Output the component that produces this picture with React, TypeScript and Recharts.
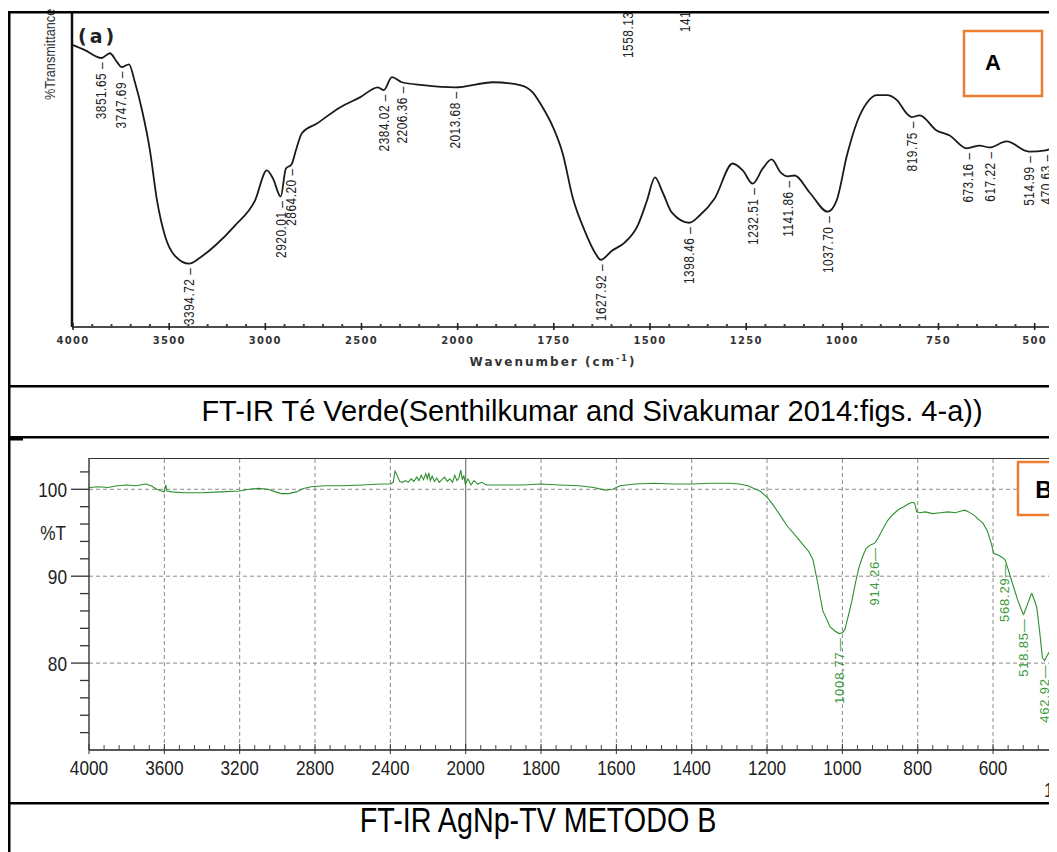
import React from "react";
import { LineChart, Line, XAxis, YAxis, ReferenceDot, ReferenceLine } from "recharts";

// ---------- Panel A : FT-IR Té Verde ----------
const A_WAVENUMBERS = [4000, 3938, 3852, 3808, 3771, 3748, 3709, 3678, 3641, 3600, 3563, 3522, 3470, 3395, 3340, 3262, 3158, 3054, 2992, 2960, 2920, 2893, 2864, 2841, 2810, 2732, 2612, 2508, 2415, 2384, 2342, 2290, 2181, 2014, 1908, 1838, 1805, 1779, 1752, 1727, 1701, 1670, 1643, 1628, 1599, 1566, 1532, 1508, 1487, 1467, 1443, 1398, 1371, 1332, 1285, 1259, 1233, 1207, 1184, 1160, 1142, 1124, 1085, 1038, 1015, 988, 962, 937, 911, 885, 858, 833, 820, 799, 755, 721, 677, 643, 617, 573, 515, 471, 440];
const A_TRANSMITTANCE = [89.5, 87.9, 85.4, 86.9, 84.1, 82.5, 83.4, 77.7, 68.8, 56.1, 40.1, 29.0, 22.6, 20.1, 22.0, 25.8, 32.2, 40.1, 49.7, 47.1, 41.4, 50.3, 51.6, 56.1, 61.5, 64.6, 69.7, 72.9, 76.1, 75.2, 79.3, 77.7, 76.8, 76.1, 77.7, 76.8, 74.5, 69.7, 63.4, 55.1, 41.1, 30.6, 23.6, 21.3, 24.2, 26.8, 32.2, 40.1, 47.5, 42.7, 36.3, 33.1, 35.4, 40.8, 51.9, 49.7, 45.5, 50.3, 53.2, 49.0, 47.8, 48.1, 42.7, 36.6, 40.1, 54.5, 65.0, 71.0, 73.6, 73.6, 72.0, 67.8, 66.6, 67.2, 62.4, 60.8, 56.7, 57.6, 57.0, 58.9, 55.7, 56.1, 58.3];
const A_TICK_WAVENUMBERS = [4000, 3500, 3000, 2500, 2000, 1750, 1500, 1250, 1000, 750, 500];
const A_PEAK_TEXT = ["3851.65", "3747.69", "3394.72", "2920.01", "2864.20", "2384.02", "2206.36", "2013.68", "1627.92", "1398.46", "1232.51", "1141.86", "1037.70", "819.75", "673.16", "617.22", "514.99", "470.63"];
const A_PEAK_AT = [3851.65, 3747.69, 3394.72, 2920.01, 2864.2, 2384.02, 2290, 2013.68, 1627.92, 1398.46, 1232.51, 1141.86, 1037.7, 819.75, 673.16, 617.22, 514.99, 470.63];
const A_PEAK_T = [85.4, 82.5, 20.1, 41.4, 51.6, 75.2, 77.7, 76.1, 21.3, 33.1, 45.5, 47.8, 36.6, 66.6, 56.7, 57.0, 55.7, 56.1];
const A_TOP_TEXT = ["1558.13", "141"];
const A_TOP_AT = [1558.13, 1410];
const A_TOP_T = [85.4, 93.6];

// ---------- Panel B : FT-IR AgNp-TV METODO B ----------
const B_WAVENUMBERS = [4000, 3950, 3900, 3850, 3800, 3750, 3700, 3670, 3640, 3615, 3600, 3592, 3586, 3560, 3500, 3450, 3400, 3300, 3200, 3150, 3100, 3050, 3010, 2980, 2940, 2900, 2860, 2820, 2750, 2650, 2550, 2450, 2400, 2385, 2375, 2368, 2360, 2350, 2335, 2320, 2305, 2290, 2275, 2260, 2248, 2236, 2224, 2212, 2204, 2196, 2188, 2178, 2166, 2154, 2140, 2126, 2112, 2098, 2084, 2070, 2058, 2046, 2036, 2026, 2018, 2010, 2002, 1994, 1986, 1978, 1968, 1958, 1945, 1900, 1850, 1800, 1750, 1700, 1660, 1630, 1610, 1590, 1550, 1500, 1450, 1400, 1350, 1300, 1274, 1250, 1235, 1219, 1200, 1184, 1165, 1147, 1125, 1102, 1090, 1078, 1065, 1052, 1040, 1033, 1020, 1008.77, 1000, 993, 984, 975, 965, 956, 946, 937, 925, 914.26, 905, 893, 880, 866, 850, 837, 825, 815, 808, 803, 795, 780, 760, 740, 720, 700, 685, 675, 665, 650, 640, 627, 615, 605, 598, 585, 574, 568.29, 560, 548, 535, 521, 518.85, 510, 500, 497, 490, 484, 476, 469, 462.92, 456, 452, 445, 438, 430, 422];
const B_TRANSMITTANCE = [100.2, 100.3, 100.2, 100.4, 100.5, 100.4, 100.6, 100.4, 100.0, 99.8, 99.7, 100.5, 99.8, 99.7, 99.6, 99.6, 99.6, 99.7, 99.8, 100.0, 100.1, 100.0, 99.7, 99.5, 99.5, 99.7, 100.1, 100.3, 100.4, 100.4, 100.5, 100.6, 100.6, 100.8, 102.1, 101.8, 101.4, 100.9, 100.8, 101.0, 100.8, 101.2, 100.9, 101.4, 101.0, 101.6, 101.1, 101.8, 101.2, 101.9, 101.0, 101.5, 100.9, 101.3, 100.8, 101.1, 101.4, 100.9, 101.2, 100.8, 101.6, 101.0, 101.3, 102.2, 101.1, 101.6, 100.6, 101.2, 100.5, 101.0, 100.6, 100.8, 100.5, 100.5, 100.5, 100.6, 100.5, 100.4, 100.2, 99.9, 100.0, 100.4, 100.6, 100.7, 100.6, 100.6, 100.7, 100.7, 100.6, 100.4, 100.1, 99.8, 99.1, 98.2, 97.0, 95.8, 94.7, 93.5, 92.9, 91.9, 89.1, 86.0, 84.9, 84.2, 83.7, 83.4, 83.5, 83.9, 85.5, 87.1, 89.3, 91.0, 92.3, 93.2, 93.6, 93.8, 94.4, 95.4, 96.4, 97.1, 97.7, 98.0, 98.3, 98.5, 98.4, 97.4, 97.3, 97.4, 97.2, 97.3, 97.4, 97.3, 97.5, 97.6, 97.4, 97.0, 96.6, 96.1, 95.2, 93.8, 92.6, 92.4, 92.1, 91.9, 90.8, 89.1, 87.3, 85.7, 85.6, 86.6, 87.8, 88.0, 87.2, 86.4, 83.5, 80.6, 80.3, 80.9, 81.2, 80.5, 79.9, 79.6, 79.0];
const B_TICK_WAVENUMBERS = [4000, 3600, 3200, 2800, 2400, 2000, 1800, 1600, 1400, 1200, 1000, 800, 600, 400];
const B_Y_LABELS = [100, 90, 80];
const B_PEAK_TEXT = ["1008.77", "914.26", "568.29", "518.85", "462.92"];
const B_PEAK_AT = [1008.77, 914.26, 568.29, 518.85, 462.92];
const B_PEAK_T = [83.4, 93.8, 91.9, 85.6, 80.3];

// piecewise wavenumber axes (2x expansion below 2000 cm-1)
const posA = (w: number) => (w >= 2000 ? (4000 - w) / 500 : 4 + (2000 - w) / 250);
const posB = (w: number) => (w >= 2000 ? (4000 - w) / 400 : 5 + (2000 - w) / 200);

const SANS = "'Liberation Sans', Arial, sans-serif";
const WIDE = "'DejaVu Sans', Verdana, sans-serif";
const NX = 0.82; // horizontal squeeze to mimic a narrow face

const A_MIN = -0.0104;
const A_MAX = 10.7;
const B_MIN = 0;
const B_MAX = 13.3;

function buildTicks(majors: number[], extra: number) {
  const out: number[] = [];
  for (let i = 0; i < majors.length; i++) {
    out.push(majors[i]);
    const next = i < majors.length - 1 ? majors[i + 1] : majors[i] + extra;
    for (let k = 1; k <= 4; k++) out.push(majors[i] + ((next - majors[i]) * k) / 5);
  }
  return out;
}

const A_MAJOR_POS = A_TICK_WAVENUMBERS.map(posA);
const B_MAJOR_POS = B_TICK_WAVENUMBERS.map(posB);
const A_TICKS = buildTicks(A_MAJOR_POS, 1).filter((p) => p <= A_MAX);
const B_TICKS = buildTicks(B_MAJOR_POS, 1).filter((p) => p <= B_MAX);
const B_Y_TICKS: number[] = [];
for (let v = 72; v <= 102; v += 2) B_Y_TICKS.push(v);

const findIdx = (arr: number[], v: number) => arr.findIndex((p) => Math.abs(p - v) < 1e-6);

// narrow text helper (Liberation Sans squeezed horizontally)
const NText = (p: any) => {
  const { x, y, rotate = 0, size, anchor = "start", fill = "#222", baseline, spacing = 0, children } = p;
  return (
    <text
      transform={`translate(${x} ${y}) rotate(${rotate}) scale(${NX} 1)`}
      x={0}
      y={0}
      textAnchor={anchor}
      dominantBaseline={baseline}
      fontSize={size}
      letterSpacing={spacing}
      fill={fill}
      fontFamily={SANS}
    >
      {children}
    </text>
  );
};

const renderATick = (props: any) => {
  const { x, y, payload } = props;
  const idx = findIdx(A_MAJOR_POS, payload.value);
  if (idx >= 0) {
    return (
      <g>
        <line x1={x} x2={x} y1={y - 4} y2={y + 3} stroke="#222" strokeWidth={1.6} />
        <text x={x} y={y + 17} textAnchor="middle" fontSize={10} fontWeight="bold" fill="#333" letterSpacing={1.3} fontFamily={WIDE}>
          {A_TICK_WAVENUMBERS[idx]}
        </text>
      </g>
    );
  }
  return <line x1={x} x2={x} y1={y - 3} y2={y + 1} stroke="#444" strokeWidth={2} />;
};

const renderBTick = (props: any) => {
  const { x, y, payload } = props;
  const idx = findIdx(B_MAJOR_POS, payload.value);
  if (idx >= 0) {
    return (
      <g>
        <line x1={x} x2={x} y1={y - 6} y2={y + 4} stroke="#333" strokeWidth={1} />
        <NText x={x} y={y + 25} size={21} anchor="middle">{B_TICK_WAVENUMBERS[idx]}</NText>
      </g>
    );
  }
  return <line x1={x} x2={x} y1={y - 5} y2={y} stroke="#444" strokeWidth={1} />;
};

const renderBYTick = (props: any) => {
  const { x, y, payload } = props;
  const v = payload.value;
  if (B_Y_LABELS.includes(v)) {
    return (
      <g>
        <line x1={x - 18} x2={x} y1={y} y2={y} stroke="#333" strokeWidth={1.3} />
        <NText x={x - 22} y={y + 7.5} size={21} anchor="end">{v}</NText>
      </g>
    );
  }
  return <line x1={x - 9} x2={x} y1={y} y2={y} stroke="#333" strokeWidth={1.3} />;
};

const peakLabelA = (text: string) => (p: any) => (
  <NText x={p.cx} y={p.cy + 4} rotate={-90} size={14.5} spacing={0.6} anchor="end" baseline="central">
    {text + " \u2013"}
  </NText>
);

const topLabelA = (text: string) => (p: any) => (
  <NText x={p.cx} y={p.cy} rotate={-90} size={14.5} spacing={0.6} anchor="start" baseline="central">
    {text}
  </NText>
);

const peakLabelB = (text: string) => (p: any) => {
  const cx = p.cx;
  const cy = p.cy + 4;
  return (
    <text transform={`rotate(-90 ${cx} ${cy})`} x={cx} y={cy} textAnchor="end" dominantBaseline="central" fontSize={13} letterSpacing={0.8} fill="#3a9a3a" fontFamily={SANS}>
      {text + "\u2014"}
    </text>
  );
};

export default function App() {
  const aData = A_WAVENUMBERS.map((w, i) => ({ p: posA(w), t: A_TRANSMITTANCE[i] }));
  const bData = B_WAVENUMBERS.map((w, i) => ({ p: posB(w), t: B_TRANSMITTANCE[i] }));
  const bGrid = B_MAJOR_POS.filter((p) => p > 0 && Math.abs(p - posB(2000)) > 1e-6);

  return (
    <div style={{ position: "relative", width: 1049, height: 844, overflow: "hidden", background: "#fff", fontFamily: SANS }}>
      {/* Panel A chart */}
      <div style={{ position: "absolute", left: 0, top: 4 }}>
        <LineChart width={1094} height={360} data={aData} margin={{ top: 0, right: 0, bottom: 0, left: 0 }}>
          <XAxis type="number" dataKey="p" domain={[A_MIN, A_MAX]} ticks={A_TICKS} interval={0} tickSize={0} tickMargin={0} tickLine={false} tick={renderATick} height={45} axisLine={{ stroke: "#111", strokeWidth: 1.6 }} allowDataOverflow />
          <YAxis type="number" domain={[0, 100]} width={64} tick={false} tickLine={false} axisLine={{ stroke: "#111", strokeWidth: 2.5 }} />
          <Line type="monotone" dataKey="t" stroke="#1a1a1a" strokeWidth={1.8} dot={false} isAnimationActive={false} />
          {A_PEAK_TEXT.map((t, i) => (
            <ReferenceDot key={"a" + i} x={posA(A_PEAK_AT[i])} y={A_PEAK_T[i]} r={1} shape={peakLabelA(t)} />
          ))}
          {A_TOP_TEXT.map((t, i) => (
            <ReferenceDot key={"at" + i} x={posA(A_TOP_AT[i])} y={A_TOP_T[i]} r={1} shape={topLabelA(t)} />
          ))}
        </LineChart>
      </div>

      {/* Panel B chart */}
      <div style={{ position: "absolute", left: 0, top: 450 }}>
        <LineChart width={1083} height={342} data={bData} margin={{ top: 0, right: 0, bottom: 0, left: 0 }}>
          <XAxis type="number" dataKey="p" domain={[B_MIN, B_MAX]} ticks={B_TICKS} interval={0} tickSize={0} tickMargin={0} tickLine={false} tick={renderBTick} height={50} axisLine={{ stroke: "#222", strokeWidth: 1.3 }} allowDataOverflow />
          <YAxis type="number" domain={[70, 103.6]} ticks={B_Y_TICKS} interval={0} width={81} tickSize={0} tickMargin={0} tickLine={false} tick={renderBYTick} axisLine={{ stroke: "#222", strokeWidth: 1.3 }} allowDataOverflow />
          {bGrid.map((p, i) => (
            <ReferenceLine key={"gx" + i} x={p} stroke="#8a8a8a" strokeWidth={1} strokeDasharray="4 3" />
          ))}
          {B_Y_LABELS.map((v) => (
            <ReferenceLine key={"gy" + v} y={v} stroke="#8a8a8a" strokeWidth={1} strokeDasharray="4 3" />
          ))}
          <ReferenceLine x={posB(2000)} stroke="#777" strokeWidth={1.2} />
          <ReferenceLine y={103.6} stroke="#333" strokeWidth={2} />
          <Line type="linear" dataKey="t" stroke="#2f8f2f" strokeWidth={1.1} dot={false} isAnimationActive={false} />
          {B_PEAK_TEXT.map((t, i) => (
            <ReferenceDot key={"b" + i} x={posB(B_PEAK_AT[i])} y={B_PEAK_T[i]} r={1} shape={peakLabelB(t)} />
          ))}
        </LineChart>
      </div>

      {/* Table frame, captions and annotations */}
      <svg width={1049} height={844} style={{ position: "absolute", left: 0, top: 0, pointerEvents: "none" }}>
        <g transform="translate(-8,-8)">
          <rect x={8} y={0} width={1100} height={11} fill="#fff" />
          <NText x={55} y={100} rotate={-90} size={15.5} fill="#333">%Transmittance</NText>
          <text x={78} y={43} fontSize={19} fontWeight="bold" letterSpacing={3} fill="#222" fontFamily={WIDE}>(a)</text>
          <text x={553} y={366} textAnchor="middle" fontSize={12} fontWeight="bold" letterSpacing={2} fill="#333" fontFamily={WIDE}>
            Wavenumber (cm<tspan dy={-5} fontSize={8}>-1</tspan><tspan dy={5}>)</tspan>
          </text>
          <rect x={964} y={31} width={78} height={65} fill="#fff" stroke="#ED7D31" strokeWidth={2.5} />
          <text x={993} y={70} textAnchor="middle" fontSize={22} fontWeight="bold" fill="#000" fontFamily={SANS}>A</text>

          <rect x={8} y={11} width={1100} height={2.5} fill="#000" />
          <rect x={8} y={11} width={2.5} height={850} fill="#000" />
          <rect x={8} y={385} width={1100} height={2.5} fill="#000" />
          <text x={592} y={421} textAnchor="middle" fontSize={29} fill="#000" fontFamily={SANS}>FT-IR Té Verde(Senthilkumar and Sivakumar 2014:figs. 4-a))</text>
          <rect x={8} y={436} width={1100} height={2.5} fill="#000" />
          <rect x={10} y={437} width={13} height={3.5} fill="#000" />

          <NText x={66} y={540} size={21} anchor="end">%T</NText>
          <NText x={1044} y={797} size={21}>1/cm</NText>
          <rect x={1018} y={462} width={70} height={53} fill="#fff" stroke="#ED7D31" strokeWidth={2.5} />
          <text x={1044} y={498} textAnchor="middle" fontSize={24} fontWeight="bold" fill="#000" fontFamily={SANS}>B</text>

          <rect x={8} y={802} width={1100} height={2.5} fill="#000" />
          <NText x={538} y={832} size={35} anchor="middle" fill="#000">FT-IR AgNp-TV METODO B</NText>
        </g>
      </svg>
    </div>
  );
}
